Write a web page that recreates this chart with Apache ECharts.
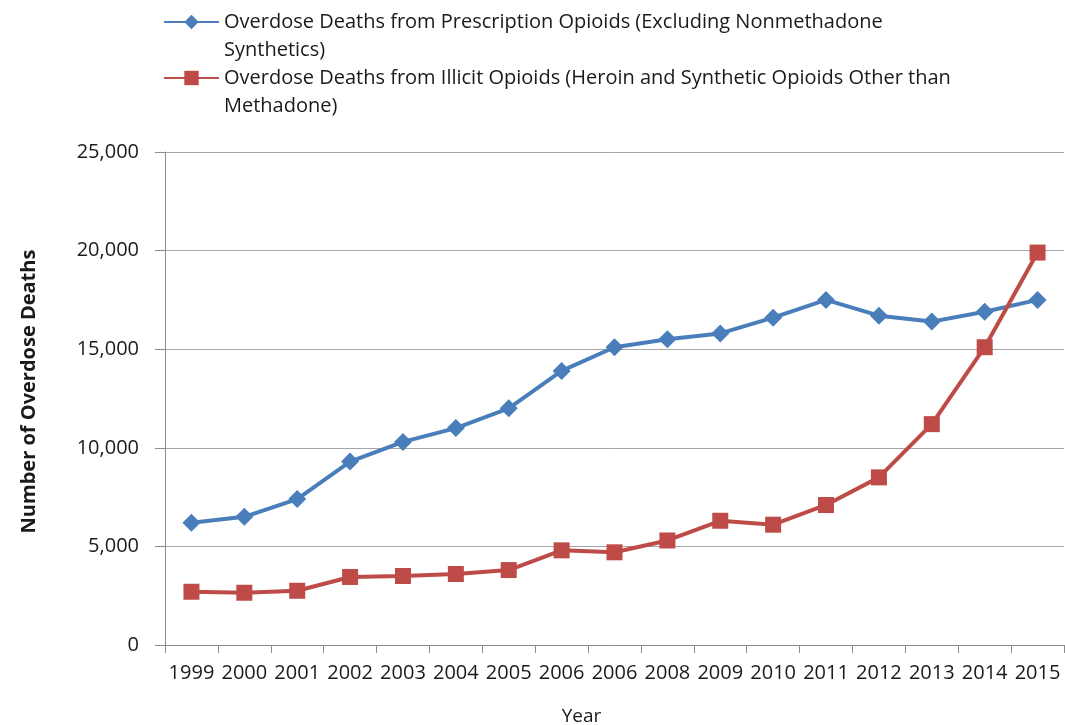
<!DOCTYPE html>
<html><head><meta charset="utf-8">
<script src="https://cdn.jsdelivr.net/npm/echarts@6/dist/echarts.min.js"></script>
<style>html,body{margin:0;padding:0;background:#fff}#c{width:1065px;height:725px}</style>
</head><body><div id="c"></div>
<script>
// Year labels along the bottom axis (the source table repeats "2006")
const years = ['1999','2000','2001','2002','2003','2004','2005','2006','2006','2008','2009','2010','2011','2012','2013','2014','2015'];
// Overdose deaths per year
const prescriptionDeaths = [6200,6500,7400,9300,10300,11000,12000,13900,15100,15500,15800,16600,17500,16700,16400,16900,17500];
const illicitDeaths = [2700,2650,2750,3450,3500,3600,3800,4800,4700,5300,6300,6100,7100,8500,11200,15100,19900];
// Value axis ticks
const yMin = 0, yMax = 25000, yStep = 5000;

const seriesNames = [
  'Overdose Deaths from Prescription Opioids (Excluding Nonmethadone Synthetics)',
  'Overdose Deaths from Illicit Opioids (Heroin and Synthetic Opioids Other than Methadone)'
];
const FONT = '"Open Sans", sans-serif';
const BLUE = '#4A7EBB', RED = '#BE4B48';
const INK = '#1a1a1a';

// Two-line legend text; the leading blank line keeps the first line level with the icon
function wrapName(n) {
  return '\n' + n.replace(' Synthetics)', '\nSynthetics)').replace(' Methadone)', '\nMethadone)');
}
function legendFor(name, top) {
  return {
    data: [name], left: 163, top: top, orient: 'vertical', padding: 0,
    itemWidth: 55, itemHeight: 18, selectedMode: false,
    formatter: wrapName,
    textStyle: { fontFamily: FONT, fontSize: 20, color: INK, lineHeight: 28 }
  };
}

const chart = echarts.init(document.getElementById('c'), null, { renderer: 'canvas' });
chart.setOption({
  animation: false,
  backgroundColor: '#fff',
  legend: [legendFor(seriesNames[0], -20), legendFor(seriesNames[1], 36)],
  grid: { left: 165, right: 1, top: 152, bottom: 80, containLabel: false, outerBoundsMode: 'none' },
  xAxis: {
    type: 'category', data: years, boundaryGap: true,
    name: 'Year', nameLocation: 'middle', nameGap: 62,
    nameTextStyle: { fontFamily: FONT, fontSize: 19, color: INK, padding: [0, 66, 0, 0] },
    axisLine: { lineStyle: { color: '#8c8c8c', width: 1 } },
    axisTick: { show: true, length: 8, lineStyle: { color: '#8c8c8c' } },
    axisLabel: { fontFamily: FONT, fontSize: 20, color: INK, margin: 18, interval: 0 }
  },
  yAxis: {
    type: 'value', min: yMin, max: yMax, interval: yStep,
    name: 'Number of Overdose Deaths', nameLocation: 'middle', nameGap: 126,
    nameTextStyle: { fontFamily: FONT, fontSize: 20, fontWeight: 'bold', color: INK, padding: [0, 0, 0, 14] },
    axisLine: { show: true, lineStyle: { color: '#8c8c8c', width: 1 } },
    axisTick: { show: true, length: 10, lineStyle: { color: '#8c8c8c' } },
    axisLabel: { fontFamily: FONT, fontSize: 20, color: INK, margin: 26,
      formatter: v => v.toLocaleString('en-US') },
    splitLine: { lineStyle: { color: '#a6a6a6', width: 1 } }
  },
  series: [
    { name: seriesNames[0], type: 'line', data: prescriptionDeaths,
      symbol: 'diamond', symbolSize: 18,
      lineStyle: { color: BLUE, width: 4 }, itemStyle: { color: BLUE } },
    { name: seriesNames[1], type: 'line', data: illicitDeaths,
      symbol: 'rect', symbolSize: 16,
      lineStyle: { color: RED, width: 4 }, itemStyle: { color: RED } }
  ]
});
</script></body></html>
